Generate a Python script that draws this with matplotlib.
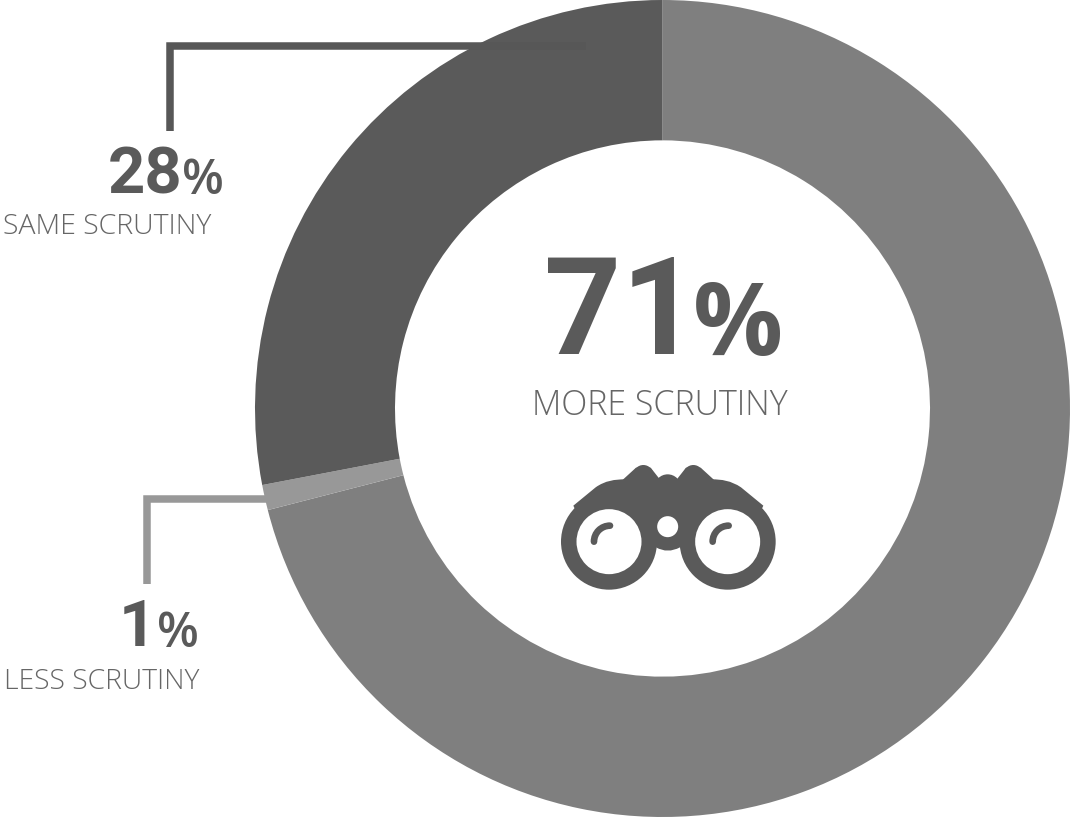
import matplotlib
matplotlib.use("Agg")
import matplotlib.pyplot as plt
from matplotlib.patches import Circle, Arc, PathPatch, Polygon
from matplotlib.path import Path

categories = ["MORE SCRUTINY", "LESS SCRUTINY", "SAME SCRUTINY"]
values = [71, 1, 28]
colors = ["#7f7f7f", "#989898", "#5a5a5a"]

W, H = 1072, 817
plt.rcParams["font.family"] = ["Open Sans", "DejaVu Sans"]
fig = plt.figure(figsize=(W / 100, H / 100), dpi=100)
ax = fig.add_axes([0, 0, 1, 1])
ax.set_xlim(0, W)
ax.set_ylim(H, 0)
ax.axis("off")
ax.set_zorder(3)

# Ring, clockwise from twelve o'clock, in its own axes
left, right, top, bottom = 255, 1070, 0, 817
hole_frac = 267.5 / 407.5
ax2 = fig.add_axes([left / W, 1 - bottom / H, (right - left) / W, (bottom - top) / H])
ax2.pie(values, colors=colors, startangle=90, counterclock=False, radius=1,
        wedgeprops=dict(width=1 - hole_frac, linewidth=0))
ax2.set_xlim(-1, 1)
ax2.set_ylim(-1, 1)
ax2.set_aspect("auto")

# Leader lines
ax.plot([170, 170, 586], [131, 46, 46], color="#575757", lw=5.4, solid_joinstyle="miter", solid_capstyle="butt")
ax.plot([147, 147, 268], [584, 499, 499], color="#989898", lw=5.4, solid_joinstyle="miter", solid_capstyle="butt")

dark = "#5a5a5a"
def pct(x_num, x_sign, y, num, s1, s2, weight):
    ax.text(x_num, y, num, fontsize=s1, fontweight="bold", family="Roboto", color=dark, ha="right", va="baseline")
    ax.text(x_sign, y + 1, "%", fontsize=s2, fontweight=weight, color=dark, ha="left", va="baseline")

pct(699, 693, 354, "71", 97, 72, "bold")
pct(182, 182, 193, "28", 47, 35, "semibold")
pct(156, 157, 646, "1", 47, 35, "semibold")

grey = "#666666"
ax.text(660, 415, categories[0], fontsize=24.5, color=grey, ha="center", va="baseline", fontweight="light")
ax.text(107, 234, categories[2], fontsize=20.5, color=grey, ha="center", va="baseline", fontweight="light")
ax.text(102, 689, categories[1], fontsize=20.3, color=grey, ha="center", va="baseline", fontweight="light")

# Binoculars icon, laid out in its own 3x grid
ix = lambda v: 530 + v / 3
iy = lambda v: 440 + v / 3
pts = [(150, 240), (130, 197), (197, 142), (225, 122), (255, 118), (285, 118),
       (545, 118), (575, 118), (603, 122), (633, 142), (700, 197), (680, 240),
       (600, 330), (450, 322), (413, 342), (378, 322), (237, 330), (150, 240)]
codes = [Path.MOVETO, Path.LINETO, Path.LINETO, Path.CURVE4, Path.CURVE4, Path.CURVE4,
         Path.LINETO, Path.CURVE4, Path.CURVE4, Path.CURVE4, Path.LINETO, Path.LINETO,
         Path.LINETO, Path.LINETO, Path.CURVE3, Path.CURVE3, Path.LINETO, Path.CLOSEPOLY]
ax.add_patch(PathPatch(Path([(ix(a), iy(b)) for a, b in pts], codes), fc=dark, ec="none", zorder=5))
for bx, by, br in ((340, 105, 30), (490, 105, 30), (413, 143, 40)):
    ax.add_patch(Circle((ix(bx), iy(by)), br / 3, fc=dark, ec="none", zorder=5))
for shape in ([(272, 125), (318, 83), (362, 83), (395, 125)], [(435, 125), (468, 83), (512, 83), (558, 125)]):
    ax.add_patch(Polygon([(ix(a), iy(b)) for a, b in shape], fc=dark, ec="none", zorder=5))
lens_y = iy(305)
for lx in (ix(237), ix(593)):
    ax.add_patch(Circle((lx, lens_y), 48, fc=dark, ec="none", zorder=6))
    ax.add_patch(Circle((lx, lens_y), 32.5, fc="white", ec="none", zorder=7))
    ax.add_patch(Arc((lx + 1, lens_y), 32, 32, theta1=180, theta2=270, color=dark, lw=4.8,
                     capstyle="round", zorder=8))
ax.add_patch(Circle((ix(413), iy(260)), 10.5, fc="white", ec="none", zorder=8))

fig.savefig("out.png", dpi=100, facecolor="white")
